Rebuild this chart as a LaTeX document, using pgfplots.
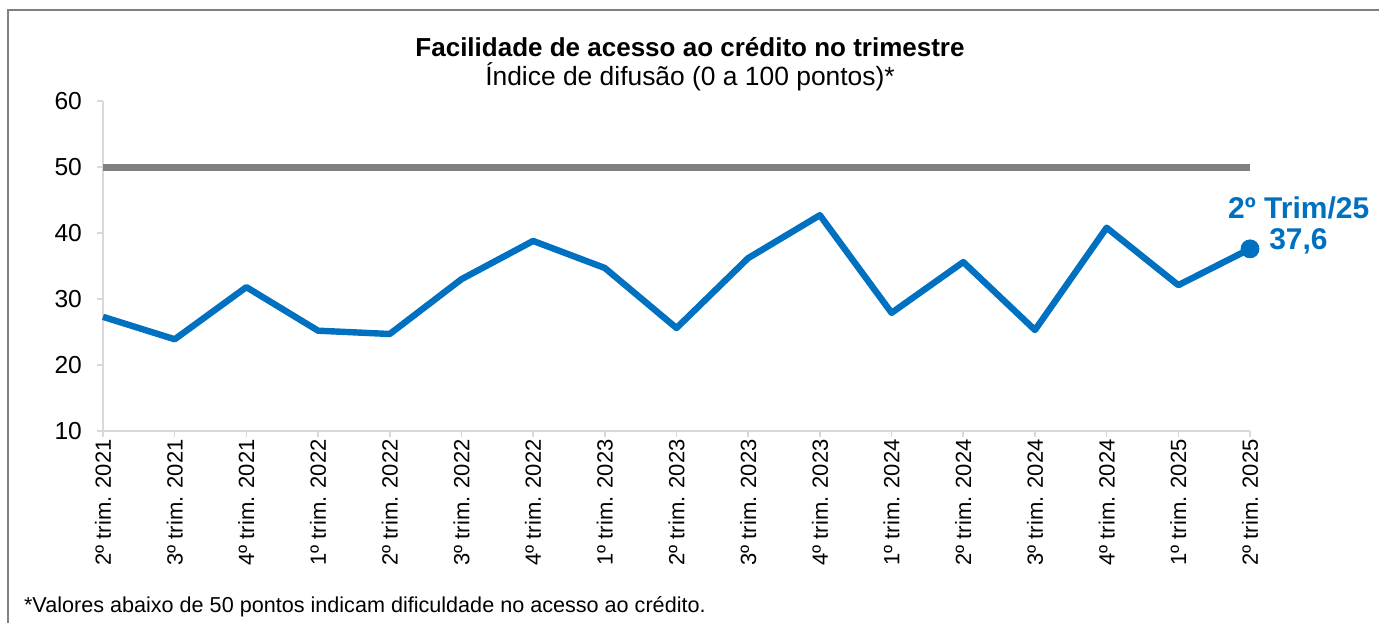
\documentclass[border=0pt]{standalone}
\usepackage{fontspec}
\setmainfont{Liberation Sans}
\usepackage{pgfplots}
\pgfplotsset{compat=1.18}
\definecolor{serieblue}{RGB}{0,112,192}
\definecolor{axgray}{RGB}{217,217,217}
\definecolor{refgray}{RGB}{128,128,128}
\begin{document}
\begin{tikzpicture}[x=1pt,y=1pt]
\useasboundingbox (0,0) rectangle (689.5,311.5);
\draw[refgray, line width=1pt] (4,0) -- (4,306.5) -- (689.5,306.5);
\node[font=\fontsize{13}{15}\selectfont\bfseries] at (345,288) {Facilidade de acesso ao crédito no trimestre};
\node[font=\fontsize{13.2}{15}\selectfont] at (345,273.2) {Índice de difusão (0 a 100 pontos)*};
\node[anchor=west, font=\fontsize{10.8}{12}\selectfont] at (8.5,8) {*Valores abaixo de 50 pontos indicam dificuldade no acesso ao crédito.};
\begin{axis}[
  at={(51.5pt,96pt)}, anchor=south west,
  scale only axis, width=573.5pt, height=165pt,
  xmin=0, xmax=16, ymin=10, ymax=60,
  ytick={10,20,...,60},
  xtick={0,...,16},
  xticklabels={2º trim. 2021,3º trim. 2021,4º trim. 2021,1º trim. 2022,2º trim. 2022,3º trim. 2022,4º trim. 2022,1º trim. 2023,2º trim. 2023,3º trim. 2023,4º trim. 2023,1º trim. 2024,2º trim. 2024,3º trim. 2024,4º trim. 2024,1º trim. 2025,2º trim. 2025},
  x tick label style={rotate=90, anchor=east, inner sep=1pt, font=\fontsize{11}{12}\selectfont},
  y tick label style={font=\fontsize{12.3}{14}\selectfont, xshift=-4pt},
  /pgf/number format/assume math mode=true,
  axis x line*=bottom, axis y line*=left,
  axis line style={draw=axgray, line width=0.8pt},
  tick align=outside, major tick length=3pt,
  tick style={draw=axgray, line width=0.8pt},
  clip=false,
]
\addplot[refgray, line width=3.5pt, no marks] coordinates {(0,50) (16,50)};
\addplot[serieblue, line width=3.2pt, no marks, line join=round] coordinates {
(0,27.3) (1,23.9) (2,31.8) (3,25.2) (4,24.7) (5,33.0) (6,38.8) (7,34.7) (8,25.6) (9,36.2) (10,42.7) (11,27.9) (12,35.6) (13,25.3) (14,40.8) (15,32.1) (16,37.6)};
\addplot[serieblue, only marks, mark=*, mark size=4.5pt] coordinates {(16,37.6)};
\node[text=serieblue, font=\fontsize{15}{17}\selectfont\bfseries] at (axis cs:16.68,43.8) {2º Trim/25};
\node[text=serieblue, font=\fontsize{15}{17}\selectfont\bfseries, anchor=west] at (axis cs:16.17,38.8) {37,6};
\end{axis}
\end{tikzpicture}
\end{document}
